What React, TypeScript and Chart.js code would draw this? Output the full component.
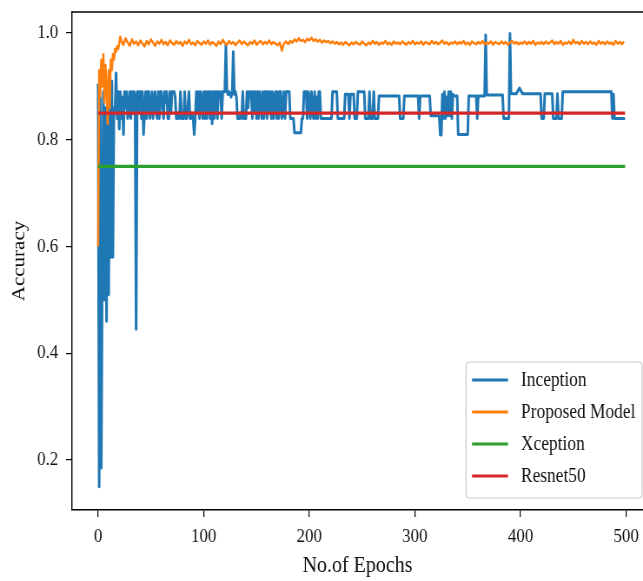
import React, { useEffect, useRef } from 'react';
import { Chart, registerables } from 'chart.js';

Chart.register(...registerables);

const seriesNames = ['Inception', 'Proposed Model', 'Xception', 'Resnet50'];
const seriesColors = ['#1f77b4', '#ff7f0e', '#2ca02c', '#d62728'];

// Inception accuracy, one value per epoch for epochs 0..257
const inceptionDense = [
  0.905, 0.15, 0.88, 0.185, 0.6, 0.89, 0.5, 0.86, 0.46, 0.88,
  0.51, 0.89, 0.58, 0.91, 0.58, 0.86, 0.85, 0.925, 0.84, 0.89,
  0.82, 0.89, 0.84, 0.88, 0.81, 0.89, 0.86, 0.89, 0.84, 0.85,
  0.89, 0.84, 0.89, 0.85, 0.89, 0.88, 0.445, 0.89, 0.85, 0.89,
  0.89, 0.84, 0.89, 0.81, 0.85, 0.89, 0.84, 0.89, 0.89, 0.84,
  0.86, 0.89, 0.84, 0.88, 0.89, 0.85, 0.84, 0.89, 0.84, 0.89,
  0.89, 0.86, 0.84, 0.89, 0.87, 0.89, 0.84, 0.84, 0.89, 0.85,
  0.89, 0.89, 0.89, 0.88, 0.84, 0.84, 0.85, 0.84, 0.89, 0.84,
  0.84, 0.84, 0.89, 0.84, 0.84, 0.86, 0.89, 0.84, 0.84, 0.85,
  0.84, 0.81, 0.84, 0.89, 0.85, 0.89, 0.84, 0.89, 0.88, 0.84,
  0.89, 0.84, 0.89, 0.84, 0.89, 0.89, 0.84, 0.89, 0.83, 0.89,
  0.84, 0.89, 0.89, 0.84, 0.89, 0.88, 0.89, 0.84, 0.89, 0.89,
  0.89, 0.978, 0.89, 0.885, 0.89, 0.885, 0.88, 0.89, 0.965, 0.885,
  0.89, 0.88, 0.84, 0.84, 0.84, 0.85, 0.84, 0.89, 0.84, 0.84,
  0.84, 0.89, 0.86, 0.89, 0.88, 0.89, 0.84, 0.89, 0.85, 0.89,
  0.84, 0.89, 0.84, 0.89, 0.88, 0.84, 0.89, 0.84, 0.89, 0.89,
  0.84, 0.89, 0.85, 0.89, 0.84, 0.89, 0.84, 0.88, 0.89, 0.84,
  0.89, 0.84, 0.89, 0.89, 0.84, 0.85, 0.89, 0.84, 0.89, 0.89,
  0.89, 0.89, 0.84, 0.84, 0.84, 0.84, 0.813, 0.813, 0.813, 0.813,
  0.813, 0.813, 0.813, 0.84, 0.84, 0.89, 0.89, 0.89, 0.84, 0.89,
  0.88, 0.84, 0.89, 0.85, 0.84, 0.89, 0.84, 0.88, 0.84, 0.89,
  0.89, 0.84, 0.84, 0.84, 0.84, 0.84, 0.84, 0.84, 0.84, 0.84,
  0.84, 0.84, 0.89, 0.89, 0.89, 0.89, 0.89, 0.84, 0.84, 0.84,
  0.84, 0.84, 0.84, 0.84, 0.885, 0.885, 0.885, 0.885, 0.84, 0.885,
  0.885, 0.885, 0.885, 0.84, 0.84, 0.84, 0.89, 0.89, 0.89, 0.89,
  0.89, 0.89, 0.89, 0.84, 0.84, 0.84, 0.84, 0.89,
];

// Inception accuracy after epoch 257 (step-like plateaus)
const inceptionTailEpochs = [
  258, 260, 261, 262, 265, 266, 285, 286, 289, 290, 303, 304, 305, 314, 315, 323, 324, 325,
  326, 327, 328, 329, 330, 331, 332, 333, 334, 335, 336, 337, 340, 341, 350, 351, 358, 359,
  360, 366, 367, 368, 383, 384, 389, 390, 391, 396, 399, 402, 419, 420, 422, 423, 430, 431,
  434, 435, 436, 439, 440, 486, 487, 488, 489, 499,
];
const inceptionTailAcc = [
  0.84, 0.84, 0.89, 0.84, 0.84, 0.882, 0.882, 0.84, 0.84, 0.882, 0.882, 0.84, 0.882, 0.882, 0.845, 0.845, 0.809, 0.809,
  0.885, 0.84, 0.89, 0.84, 0.88, 0.845, 0.89, 0.845, 0.89, 0.84, 0.885, 0.882, 0.882, 0.81, 0.81, 0.882, 0.882, 0.84,
  0.882, 0.882, 0.996, 0.884, 0.884, 0.84, 0.84, 0.999, 0.886, 0.886, 0.897, 0.886, 0.886, 0.84, 0.84, 0.886, 0.886, 0.84,
  0.84, 0.886, 0.84, 0.84, 0.89, 0.89, 0.84, 0.885, 0.84, 0.84,
];

// Proposed model accuracy, epochs 0..21 (one per epoch)
const proposedEarly = [
  0.6, 0.93, 0.88, 0.95, 0.9, 0.96, 0.87, 0.94, 0.9, 0.83,
  0.93, 0.86, 0.95, 0.93, 0.96, 0.95, 0.97, 0.965, 0.975, 0.97,
  0.98, 0.993,
];
// Proposed model accuracy, epochs 22, 24, ..., 498
const proposedLate = [
  0.985, 0.978, 0.99, 0.982, 0.976, 0.988, 0.98, 0.984, 0.977, 0.986,
  0.98, 0.975, 0.985, 0.979, 0.988, 0.982, 0.976, 0.984, 0.98, 0.987,
  0.979, 0.983, 0.977, 0.986, 0.981, 0.978, 0.985, 0.98, 0.983, 0.976,
  0.984, 0.98, 0.987, 0.979, 0.982, 0.977, 0.985, 0.981, 0.978, 0.984,
  0.98, 0.986, 0.978, 0.983, 0.98, 0.976, 0.984, 0.979, 0.987, 0.981,
  0.978, 0.985, 0.98, 0.983, 0.977, 0.982, 0.986, 0.979, 0.984, 0.98,
  0.977, 0.983, 0.98, 0.986, 0.978, 0.982, 0.985, 0.979, 0.983, 0.98,
  0.986, 0.979, 0.983, 0.98, 0.977, 0.982, 0.967, 0.98, 0.984, 0.979,
  0.985, 0.982, 0.988, 0.984, 0.99, 0.985, 0.987, 0.983, 0.989, 0.986,
  0.991, 0.985, 0.988, 0.984, 0.987, 0.982, 0.986, 0.983, 0.985, 0.981,
  0.984, 0.98, 0.983, 0.979, 0.982, 0.978, 0.983, 0.98, 0.977, 0.982,
  0.979, 0.983, 0.98, 0.978, 0.984, 0.98, 0.977, 0.982, 0.979, 0.985,
  0.98, 0.983, 0.978, 0.982, 0.98, 0.985, 0.979, 0.982, 0.978, 0.984,
  0.98, 0.982, 0.979, 0.984, 0.981, 0.978, 0.983, 0.98, 0.985, 0.979,
  0.982, 0.98, 0.984, 0.978, 0.983, 0.981, 0.979, 0.985, 0.98, 0.983,
  0.979, 0.982, 0.986, 0.98, 0.983, 0.978, 0.982, 0.98, 0.984, 0.979,
  0.983, 0.98, 0.985, 0.979, 0.982, 0.978, 0.984, 0.981, 0.979, 0.983,
  0.98, 0.985, 0.979, 0.982, 0.98, 0.984, 0.978, 0.983, 0.981, 0.979,
  0.984, 0.98, 0.983, 0.978, 0.982, 0.985, 0.98, 0.983, 0.979, 0.982,
  0.98, 0.984, 0.979, 0.983, 0.98, 0.985, 0.978, 0.982, 0.98, 0.983,
  0.979, 0.984, 0.98, 0.982, 0.986, 0.979, 0.983, 0.98, 0.985, 0.978,
  0.982, 0.98, 0.984, 0.979, 0.987, 0.981, 0.983, 0.979, 0.985, 0.98,
  0.983, 0.979, 0.984, 0.98, 0.982, 0.978, 0.985, 0.98, 0.983, 0.979,
  0.984, 0.98, 0.982, 0.978, 0.985, 0.98, 0.983, 0.979, 0.984,
];

const flatEpochs = [0, 499];
const xceptionAcc = [0.75, 0.75];
const resnetAcc = [0.85, 0.85];

const xTicks = [0, 100, 200, 300, 400, 500];
const yTicks = [0.2, 0.4, 0.6, 0.8, 1.0];

const FONT = "'Liberation Serif', 'Times New Roman', serif";

// The reference figure is horizontally squeezed; draw wider and compress.
const VIEW_W = 643;
const VIEW_H = 581;
const CANVAS_W = 740;
const SX = VIEW_W / CANVAS_W;

const frameAndLegend = {
  id: 'frameAndLegend',
  afterDraw(chart: any) {
    const { ctx, chartArea } = chart;
    ctx.save();
    ctx.strokeStyle = '#000';
    ctx.lineWidth = 1.3;
    ctx.beginPath();
    ctx.moveTo(chartArea.left, chartArea.top);
    ctx.lineTo(chartArea.right, chartArea.top);
    ctx.stroke();

    const bx = 466 / SX, by = 362, bw = 176 / SX, bh = 136, r = 4;
    ctx.beginPath();
    ctx.moveTo(bx + r, by);
    ctx.lineTo(bx + bw - r, by);
    ctx.quadraticCurveTo(bx + bw, by, bx + bw, by + r);
    ctx.lineTo(bx + bw, by + bh - r);
    ctx.quadraticCurveTo(bx + bw, by + bh, bx + bw - r, by + bh);
    ctx.lineTo(bx + r, by + bh);
    ctx.quadraticCurveTo(bx, by + bh, bx, by + bh - r);
    ctx.lineTo(bx, by + r);
    ctx.quadraticCurveTo(bx, by, bx + r, by);
    ctx.closePath();
    ctx.fillStyle = 'rgba(255,255,255,0.85)';
    ctx.fill();
    ctx.strokeStyle = '#cccccc';
    ctx.lineWidth = 1.2;
    ctx.stroke();

    chart.data.datasets.forEach((ds: any, i: number) => {
      const y = 380 + i * 32;
      ctx.strokeStyle = ds.borderColor;
      ctx.lineWidth = 3.2;
      ctx.beginPath();
      ctx.moveTo(472 / SX, y);
      ctx.lineTo(508 / SX, y);
      ctx.stroke();
      ctx.fillStyle = '#111';
      ctx.font = `20px ${FONT}`;
      ctx.textBaseline = 'middle';
      ctx.textAlign = 'left';
      ctx.fillText(ds.label, 521 / SX, y + 1);
    });
    ctx.restore();
  },
};

export default function App() {
  const ref = useRef<HTMLCanvasElement | null>(null);

  useEffect(() => {
    if (!ref.current) return;
    const incData = [
      ...inceptionDense.map((v, i) => ({ x: i, y: v })),
      ...inceptionTailEpochs.map((e, i) => ({ x: e, y: inceptionTailAcc[i] })),
    ];
    const propData = [
      ...proposedEarly.map((v, i) => ({ x: i, y: v })),
      ...proposedLate.map((v, i) => ({ x: 22 + i * 2, y: v })),
    ];
    const xcData = flatEpochs.map((e, i) => ({ x: e, y: xceptionAcc[i] }));
    const rnData = flatEpochs.map((e, i) => ({ x: e, y: resnetAcc[i] }));

    const mk = (i: number, data: any[], width: number, order: number) => ({
      label: seriesNames[i],
      data,
      borderColor: seriesColors[i],
      backgroundColor: seriesColors[i],
      borderWidth: width,
      pointRadius: 0,
      tension: 0,
      fill: false,
      order,
      borderJoinStyle: 'round' as const,
    });

    const chart = new Chart(ref.current, {
      type: 'line',
      data: {
        datasets: [
          mk(0, incData, 3, 3),
          mk(1, propData, 2.5, 2),
          mk(2, xcData, 3.3, 1),
          mk(3, rnData, 3.3, 0),
        ],
      },
      options: {
        animation: false,
        responsive: false,
        devicePixelRatio: 1,
        layout: { padding: { top: 12, left: 0, right: 0, bottom: 0 } },
        plugins: {
          legend: { display: false },
          tooltip: { enabled: false },
        },
        scales: {
          x: {
            type: 'linear',
            min: -24.6,
            max: 516,
            afterBuildTicks: (s: any) => {
              s.ticks = xTicks.map((v) => ({ value: v }));
            },
            afterFit: (s: any) => {
              s.height = 71;
              s.paddingLeft = 0;
              s.paddingRight = 0;
              s.paddingTop = 0;
              s.paddingBottom = 0;
            },
            grid: {
              drawOnChartArea: false,
              drawTicks: true,
              tickLength: 7,
              color: '#000',
              lineWidth: 1.2,
            },
            border: { display: true, color: '#000', width: 1.4 },
            ticks: {
              font: { family: FONT, size: 19.5 },
              color: '#111',
              padding: 8,
              maxRotation: 0,
              autoSkip: false,
              callback: (v: any) => String(v),
            },
            title: {
              display: true,
              text: 'No.of Epochs',
              color: '#111',
              font: { family: FONT, size: 23 },
              padding: { top: 0, bottom: 1 },
            },
          },
          y: {
            type: 'linear',
            min: 0.1064,
            max: 1.0393,
            afterBuildTicks: (s: any) => {
              s.ticks = yTicks.map((v) => ({ value: v }));
            },
            afterFit: (s: any) => {
              s.width = Math.round(72 / SX);
              s.paddingLeft = 0;
              s.paddingRight = 0;
              s.paddingTop = 0;
              s.paddingBottom = 0;
            },
            grid: {
              drawOnChartArea: false,
              drawTicks: true,
              tickLength: 7,
              color: '#000',
              lineWidth: 1.2,
            },
            border: { display: true, color: '#000', width: 1.4 },
            ticks: {
              font: { family: FONT, size: 19.5 },
              color: '#111',
              padding: 9,
              autoSkip: false,
              callback: (v: any) => Number(v).toFixed(1),
            },
            title: {
              display: true,
              text: 'Accuracy',
              color: '#111',
              font: { family: FONT, size: 21 },
              padding: { top: 10, bottom: 0 },
            },
          },
        },
      },
      plugins: [frameAndLegend],
    });
    return () => chart.destroy();
  }, []);

  return (
    <div style={{ position: 'absolute', left: 0, top: 0, width: VIEW_W, height: VIEW_H, background: '#fff', overflow: 'hidden' }}>
      <div style={{ width: CANVAS_W, height: VIEW_H, transform: `scaleX(${SX})`, transformOrigin: '0 0' }}>
        <canvas ref={ref} width={CANVAS_W} height={VIEW_H} style={{ display: 'block' }} />
      </div>
    </div>
  );
}
